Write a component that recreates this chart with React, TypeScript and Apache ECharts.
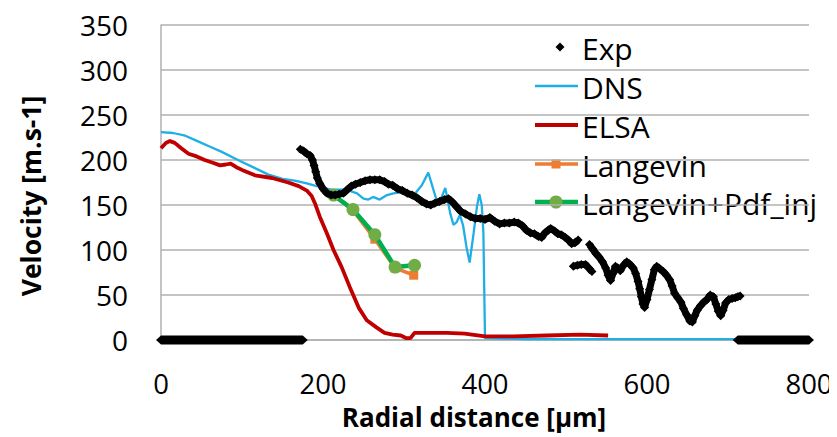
import React, { useEffect, useRef } from "react";
import * as echarts from "echarts";

// ---- Data ----
// Exp: measured points [radial distance µm, velocity m/s]
const expZeroLeft: [number, number][] = [
  [0, 0], [6, 0], [12, 0], [18, 0], [24, 0], [30, 0], [36, 0], [42, 0], [48, 0], [54, 0],
  [60, 0], [66, 0], [72, 0], [78, 0], [84, 0], [90, 0], [96, 0], [102, 0], [108, 0], [114, 0],
  [120, 0], [126, 0], [132, 0], [138, 0], [144, 0], [150, 0], [156, 0], [162, 0], [168, 0], [175, 0],
];
const expMain: [number, number][] = [
  [172, 212], [176, 210], [180, 207], [184, 205], [187, 200], [189, 194], [191, 187], [193, 180],
  [196, 174], [200, 168], [205, 163], [210, 161], [215, 161], [220, 162], [225, 163], [230, 167],
  [235, 171], [240, 173], [246, 175], [252, 177], [258, 178], [264, 178], [270, 178], [276, 176],
  [281, 173], [286, 172], [292, 168], [298, 166], [304, 163], [310, 161], [316, 158], [322, 154],
  [328, 151], [333, 150], [338, 152], [344, 154], [350, 156], [355, 157], [360, 153], [365, 148],
  [370, 143], [376, 140], [382, 137], [388, 135], [394, 135], [400, 134], [406, 136], [412, 132],
  [418, 129], [424, 130], [430, 130], [436, 131], [441, 130], [446, 127], [451, 122], [456, 119],
  [461, 118], [466, 115], [470, 114], [474, 119], [478, 122], [481, 124], [486, 121], [490, 118],
  [494, 117], [499, 114], [503, 111], [507, 107], [511, 108], [515, 111],
];
const expLowA: [number, number][] = [
  [509, 82], [514, 83], [519, 84], [524, 84], [528, 80], [532, 76],
];
const expLowB: [number, number][] = [
  [529, 106], [533, 101], [537, 96], [541, 92], [545, 87], [549, 80], [552, 72], [555, 66],
  [558, 74], [561, 82], [564, 80], [567, 77], [571, 83], [575, 87], [579, 84], [583, 80],
  [586, 74], [589, 65], [591, 57], [593, 48], [595, 40], [597, 36], [600, 45], [603, 56],
  [606, 67], [609, 78], [612, 82], [616, 79], [620, 76], [624, 72], [628, 67], [631, 60],
  [634, 52], [638, 47], [642, 42], [645, 35], [649, 28], [653, 21], [656, 20], [659, 27],
  [662, 33], [666, 38], [670, 42], [674, 45], [678, 50], [682, 48], [685, 40], [688, 32],
  [691, 27], [694, 33], [697, 41], [701, 45], [705, 46], [709, 47], [712, 48], [715, 49],
];
const expZeroRight: [number, number][] = [
  [712, 0], [719, 0], [725, 0], [731, 0], [737, 0], [743, 0], [749, 0], [755, 0],
  [761, 0], [767, 0], [773, 0], [779, 0], [785, 0], [791, 0], [797, 0], [800, 0],
];

const dnsData: [number, number][] = [
  [0, 231], [15, 230], [30, 227], [45, 221], [60, 215], [75, 209], [95, 200], [116, 191],
  [132, 184], [150, 179], [165, 177], [180, 174], [196, 170], [210, 167], [229, 167], [242, 163],
  [250, 157], [256, 156], [262, 159], [270, 156], [279, 161], [287, 163], [301, 165], [314, 163],
  [322, 172], [330, 186], [336, 168], [342, 150], [347, 160], [351, 169], [357, 141], [361, 128],
  [365, 131], [369, 139], [373, 127], [377, 104], [381, 86], [386, 119], [390, 148], [393, 162],
  [396, 150], [398, 120], [399, 60], [400, 2], [450, 1], [550, 1], [650, 1], [711, 1],
];

const elsaData: [number, number][] = [
  [0, 213], [6, 219], [11, 221], [17, 219], [25, 213], [34, 207], [44, 204], [54, 200],
  [64, 197], [73, 194], [80, 195], [86, 196], [93, 192], [100, 189], [116, 183], [137, 180],
  [157, 175], [170, 171], [180, 166], [186, 160], [190, 152], [196, 137], [205, 118], [213, 100],
  [223, 81], [233, 59], [244, 36], [254, 22], [266, 14], [276, 8], [286, 6], [296, 5],
  [303, 2], [308, 2], [313, 8], [320, 8], [353, 8], [375, 7], [400, 4], [435, 4],
  [476, 5], [517, 6], [552, 5],
];

const langevinX = [213, 237, 264, 289, 312];
const langevinY = [161, 144, 112, 80, 72];
const pdfX = [213, 237, 264, 289, 313];
const pdfY = [161, 145, 117, 81, 83];

const seriesNames = ["Exp", "DNS", "ELSA", "Langevin", "Langevin+Pdf_inj"];
const xAxisTitle = "Radial distance [µm]";
const yAxisTitle = "Velocity [m.s-1]";

const FONT = "'Open Sans', 'Noto Sans', sans-serif";
const C_EXP = "#000000";
const C_DNS = "#1FAEE6";
const C_ELSA = "#C00000";
const C_LANG = "#ED7D31";
const C_PDF_LINE = "#00B050";
const C_PDF_MARK = "#70AD47";
const GRID_COLOR = "#b0b0b0";

export default function App() {
  const ref = useRef<HTMLDivElement>(null);

  useEffect(() => {
    if (!ref.current) return;
    const chart = echarts.init(ref.current, undefined, { renderer: "svg" });

    const expData: any[] = [...expMain, null, ...expLowA, null, ...expLowB];

    // each zero-velocity run of Exp points: [first x, last x, velocity]
    const zeroRuns = [expZeroLeft, expZeroRight].map((run) => [
      run[0][0],
      run[run.length - 1][0],
      run[0][1],
    ]);

    const legendRows = [
      { y: 47, name: seriesNames[0] },
      { y: 86, name: seriesNames[1] },
      { y: 125, name: seriesNames[2] },
      { y: 164, name: seriesNames[3] },
      { y: 202, name: seriesNames[4] },
    ];
    const lx1 = 535, lx2 = 578, lmid = 556, ltext = 582;
    const legendGraphics: any[] = [
      {
        type: "polygon",
        shape: { points: [[lmid + 4, legendRows[0].y - 4.5], [lmid + 8.5, legendRows[0].y], [lmid + 4, legendRows[0].y + 4.5], [lmid - 0.5, legendRows[0].y]] },
        style: { fill: C_EXP },
      },
      { type: "line", shape: { x1: lx1, y1: legendRows[1].y, x2: lx2, y2: legendRows[1].y }, style: { stroke: C_DNS, lineWidth: 2.5 } },
      { type: "line", shape: { x1: lx1, y1: legendRows[2].y, x2: lx2, y2: legendRows[2].y }, style: { stroke: C_ELSA, lineWidth: 4 } },
      { type: "line", shape: { x1: lx1, y1: legendRows[3].y, x2: lx2, y2: legendRows[3].y }, style: { stroke: C_LANG, lineWidth: 3.5 } },
      { type: "rect", shape: { x: lmid - 4.5, y: legendRows[3].y - 4.5, width: 9, height: 9 }, style: { fill: C_LANG } },
      { type: "line", shape: { x1: lx1, y1: legendRows[4].y, x2: lx2, y2: legendRows[4].y }, style: { stroke: C_PDF_LINE, lineWidth: 4.5 } },
      { type: "circle", shape: { cx: lmid, cy: legendRows[4].y, r: 6.5 }, style: { fill: C_PDF_MARK } },
      ...legendRows.map((r) => ({
        type: "text",
        x: ltext,
        y: r.y + 1,
        style: { text: r.name, font: `30px ${FONT}`, fill: "#000", verticalAlign: "middle", align: "left", lineHeight: 30 },
      })),
      {
        type: "text",
        x: 474,
        y: 417,
        style: { text: xAxisTitle, font: `bold 26px ${FONT}`, fill: "#000", align: "center", verticalAlign: "middle", lineHeight: 26 },
      },
      {
        type: "text",
        x: 31,
        y: 196,
        rotation: Math.PI / 2,
        style: { text: yAxisTitle, font: `bold 26.5px ${FONT}`, fill: "#000", align: "center", verticalAlign: "middle", lineHeight: 26 },
      },
    ];

    chart.setOption({
      animation: false,
      backgroundColor: "#ffffff",
      grid: { left: 161, right: 28, top: 25, bottom: 97, containLabel: false, outerBoundsMode: "none" },
      xAxis: {
        type: "value",
        min: 0,
        max: 800,
        interval: 200,
        axisLine: { show: true, lineStyle: { color: GRID_COLOR, width: 1.5 } },
        axisTick: { show: false },
        splitLine: { show: false },
        axisLabel: { color: "#000", fontFamily: FONT, fontSize: 27.5, margin: 30, lineHeight: 27 },
      },
      yAxis: {
        type: "value",
        min: 0,
        max: 350,
        interval: 50,
        axisLine: { show: true, lineStyle: { color: GRID_COLOR, width: 1.5 } },
        axisTick: { show: false },
        splitLine: { show: true, lineStyle: { color: GRID_COLOR, width: 1.5 } },
        axisLabel: { color: "#000", fontFamily: FONT, fontSize: 28, margin: 33, padding: [10, 0, 0, 0] },
      },
      graphic: legendGraphics,
      series: [
        {
          name: seriesNames[1],
          type: "line",
          data: dnsData,
          symbol: "none",
          clip: false,
          lineStyle: { color: C_DNS, width: 2.3 },
          itemStyle: { color: C_DNS },
          z: 2,
          silent: true,
        },
        {
          name: seriesNames[2],
          type: "line",
          data: elsaData,
          symbol: "none",
          clip: false,
          lineStyle: { color: C_ELSA, width: 3.8 },
          itemStyle: { color: C_ELSA },
          z: 3,
          silent: true,
        },
        {
          name: seriesNames[3],
          type: "line",
          data: langevinX.map((x, i) => [x, langevinY[i]]),
          symbol: "rect",
          symbolSize: 9,
          lineStyle: { color: C_LANG, width: 3.5 },
          itemStyle: { color: C_LANG },
          z: 4,
          silent: true,
        },
        {
          name: seriesNames[4],
          type: "line",
          data: pdfX.map((x, i) => [x, pdfY[i]]),
          symbol: "circle",
          symbolSize: 13,
          lineStyle: { color: C_PDF_LINE, width: 4.5 },
          itemStyle: { color: C_PDF_MARK },
          z: 5,
          silent: true,
        },
        {
          name: seriesNames[0],
          type: "line",
          data: expData,
          connectNulls: false,
          clip: false,
          symbol: "diamond",
          symbolSize: 9,
          showSymbol: true,
          lineStyle: { color: C_EXP, width: 7 },
          itemStyle: { color: C_EXP },
          z: 6,
          silent: true,
        },
        {
          // zero-velocity runs of Exp markers, drawn as one solid bar per run with pointed ends
          name: seriesNames[0],
          type: "custom",
          data: zeroRuns,
          clip: false,
          z: 7,
          silent: true,
          renderItem: (_params: any, api: any) => {
            const a = api.coord([api.value(0), api.value(2)]);
            const b = api.coord([api.value(1), api.value(2)]);
            const h = 4.5;
            const tip = 5;
            return {
              type: "polygon",
              shape: {
                points: [
                  [a[0] - tip, a[1]],
                  [a[0], a[1] - h],
                  [b[0], b[1] - h],
                  [b[0] + tip, b[1]],
                  [b[0], b[1] + h],
                  [a[0], a[1] + h],
                ],
              },
              style: { fill: C_EXP },
            };
          },
        },
      ],
    });

    return () => chart.dispose();
  }, []);

  return <div ref={ref} style={{ width: 837, height: 437, marginLeft: -8, marginTop: -8 }} />;
}
